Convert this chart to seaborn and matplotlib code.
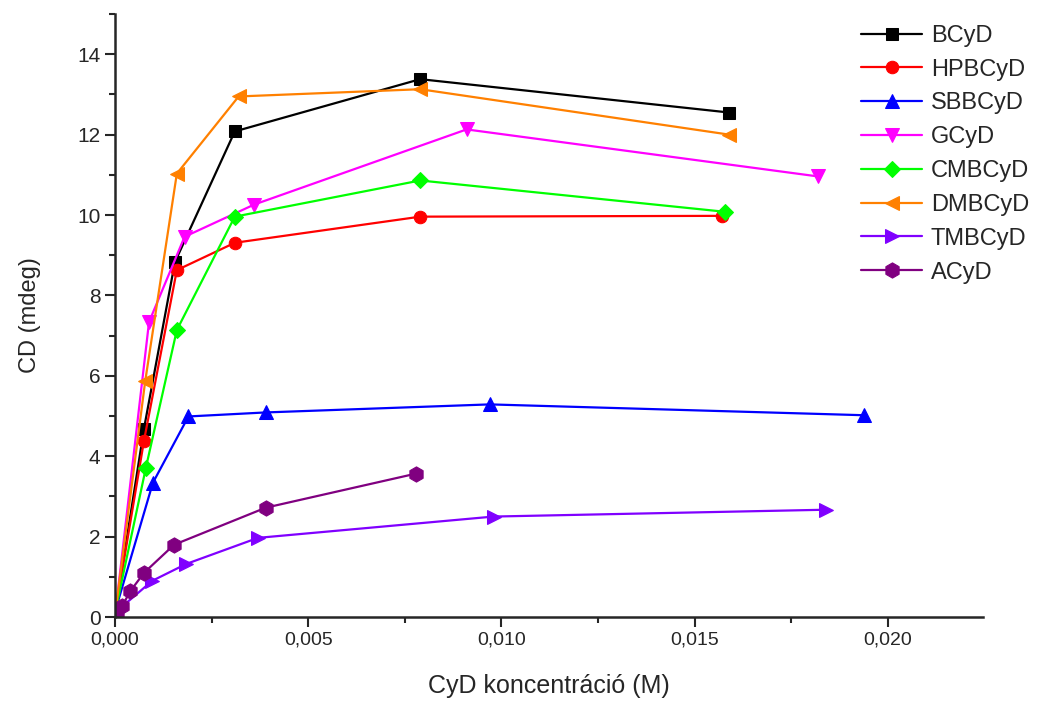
import numpy as np
import pandas as pd
import matplotlib
matplotlib.use('Agg')
import matplotlib.pyplot as plt
import matplotlib.ticker as mticker
import seaborn as sns

# Data
names = ['BCyD', 'HPBCyD', 'SBBCyD', 'GCyD', 'CMBCyD', 'DMBCyD', 'TMBCyD', 'ACyD']

bcyd_x = [0.00002, 0.00075, 0.00155, 0.0031, 0.0079, 0.0159]
bcyd_y = [0.2, 4.69, 8.83, 12.08, 13.38, 12.55]

hpbcyd_x = [0.00002, 0.00075, 0.0016, 0.0031, 0.0079, 0.0157]
hpbcyd_y = [0.2, 4.39, 8.63, 9.31, 9.96, 9.98]

sbbcyd_x = [0.00002, 0.00098, 0.0019, 0.0039, 0.0097, 0.0194]
sbbcyd_y = [0.2, 3.34, 4.99, 5.09, 5.29, 5.02]

gcyd_x = [0.00002, 0.00088, 0.0018, 0.0036, 0.0091, 0.0182]
gcyd_y = [0.2, 7.34, 9.46, 10.26, 12.13, 10.96]

cmbcyd_x = [0.00002, 0.0008, 0.0016, 0.0031, 0.0079, 0.0158]
cmbcyd_y = [0.2, 3.72, 7.14, 9.96, 10.86, 10.08]

dmbcyd_x = [0.00002, 0.00078, 0.0016, 0.0032, 0.0079, 0.0159]
dmbcyd_y = [0.2, 5.86, 11.03, 12.95, 13.13, 12.0]

tmbcyd_x = [0.00005, 0.00096, 0.00184, 0.0037, 0.0098, 0.0184]
tmbcyd_y = [0.15, 0.9, 1.32, 1.97, 2.5, 2.67]

acyd_x = [0.00005, 0.00018, 0.0004, 0.00075, 0.00153, 0.0039, 0.0078]
acyd_y = [0.03, 0.27, 0.65, 1.1, 1.8, 2.72, 3.57]

xs = [bcyd_x, hpbcyd_x, sbbcyd_x, gcyd_x, cmbcyd_x, dmbcyd_x, tmbcyd_x, acyd_x]
ys = [bcyd_y, hpbcyd_y, sbbcyd_y, gcyd_y, cmbcyd_y, dmbcyd_y, tmbcyd_y, acyd_y]

colors = ['#000000', '#FF0000', '#0000FF', '#FF00FF', '#00FF00', '#FF8000', '#8000FF', '#800080']
markers = ['s', 'o', '^', 'v', 'D', '<', '>', 'h']
sizes = [8, 9, 10, 10, 8, 10, 10, 11]

sns.set_style('ticks')
plt.rcParams['font.family'] = ['Liberation Sans', 'DejaVu Sans']

fig = plt.figure(figsize=(10.41, 7.02), dpi=100)
ax = fig.add_axes([0.1105, 0.121, 0.8335, 0.859])

for name, x, y, c, m, s in zip(names, xs, ys, colors, markers, sizes):
    df = pd.DataFrame({'x': x, 'y': y})
    sns.lineplot(data=df, x='x', y='y', ax=ax, color=c, marker=m, markersize=s,
                 markeredgecolor=c, linewidth=1.6, label=name, sort=False)

ax.set_xlim(0, 0.02246)
ax.set_ylim(0, 15)
ax.xaxis.set_major_locator(mticker.MultipleLocator(0.005))
ax.xaxis.set_minor_locator(mticker.MultipleLocator(0.0025))
ax.yaxis.set_major_locator(mticker.MultipleLocator(2))
ax.yaxis.set_minor_locator(mticker.MultipleLocator(1))
ax.xaxis.set_major_formatter(mticker.FuncFormatter(lambda v, p: f'{v:.3f}'.replace('.', ',')))
ax.tick_params(which='major', direction='out', length=7, width=1.5, labelsize=14)
ax.tick_params(axis='y', which='major', labelsize=15)
ax.tick_params(which='minor', direction='out', length=4, width=1.5)
for sp in ['left', 'bottom']:
    ax.spines[sp].set_linewidth(1.8)
sns.despine(ax=ax)

ax.set_xlabel('CyD koncentráció (M)', fontsize=18, labelpad=18)
ax.set_ylabel('CD (mdeg)', fontsize=17, labelpad=26)

leg = ax.legend(loc='upper left', bbox_to_anchor=(0.818, 0.978), bbox_transform=fig.transFigure,
                frameon=False, fontsize=17, handlelength=2.6, handletextpad=0.35,
                labelspacing=0.5, borderaxespad=0)

fig.savefig('out.png', dpi=100)
